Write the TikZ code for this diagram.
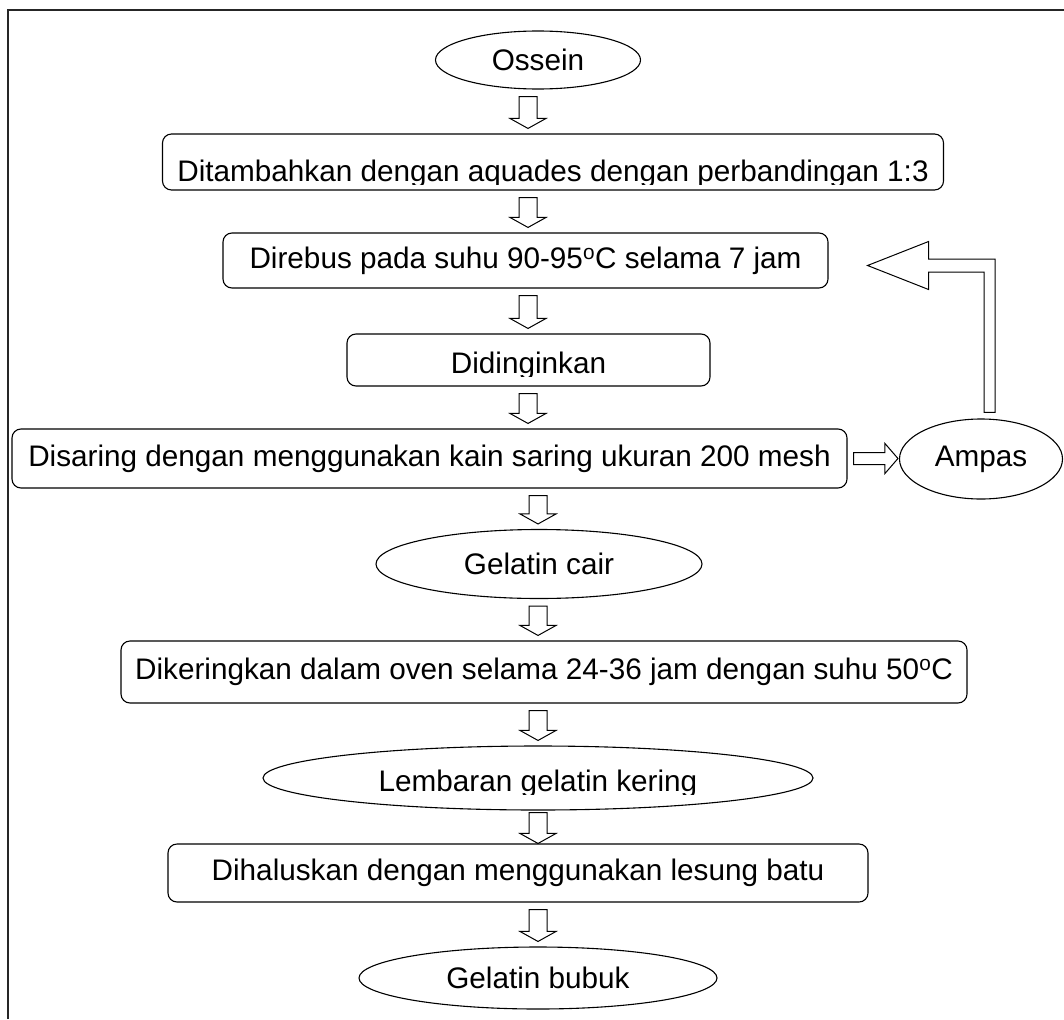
\documentclass[tikz,border=0pt]{standalone}
\usepackage{fontspec}
\setmainfont{Liberation Sans}
\usetikzlibrary{shapes.geometric,calc}

\tikzset{
  teks/.style={font=\fontsize{29.7}{34}\selectfont},
  proses/.style={teks, draw, rounded corners=9pt, line width=1.1pt, inner sep=0pt},
  hasil/.style={teks, draw, ellipse, line width=1.1pt, inner sep=0pt},
  hollow/.style={draw, line width=1pt, line join=miter}
}

% hollow arrow pointing down, in column #2, from node #3 to node #4, #1 = gap
\newcommand{\panahbawah}[4][7]{%
  \draw[hollow] let \p1=($(#2|-#3.south)+(0,#1)$), \p2=($(#2|-#4.north)+(0,2-#1)$) in
    (\x1-9,\y1) -- (\x1+9,\y1) -- (\x1+9,\y2+10) -- (\x1+18,\y2+10)
    -- (\x1,\y2) -- (\x1-18,\y2+10) -- (\x1-9,\y2+10) -- cycle;}

% hollow arrow pointing right, from node #1 to node #2
\newcommand{\panahkanan}[2]{%
  \draw[hollow] let \p1=($(#1.east)+(6,0)$), \p2=($(#2.west)+(-1,0)$) in
    (\x1,\y1+6) -- (\x2-13,\y1+6) -- (\x2-13,\y1+15) -- (\x2,\y1)
    -- (\x2-13,\y1-15) -- (\x2-13,\y1-6) -- (\x1,\y1-6) -- cycle;}

\begin{document}
\begin{tikzpicture}[x=1pt,y=-1pt]
  \useasboundingbox (0,0) rectangle (1064,1019);
  % frame
  \draw[line width=1.6pt, black!85] (8,1019) -- (8,10) -- (1064,10);

  \node[hasil, minimum width=205, minimum height=58] (ossein) at (538,60) {Ossein};
  \node[proses, minimum width=781, minimum height=56] (tambah) at (553,162) {};
  \begin{scope}
    \clip ($(tambah.north west)+(2,2)$) rectangle ($(tambah.east)+(0,22)$);
    \node[teks, anchor=base] (tambahteks) at ($(tambah.south)+(0,-9)$)
      {Ditambahkan dengan aquades dengan perbandingan 1:3};
  \end{scope}
  \node[proses, minimum width=605, minimum height=55] (rebus) at (525.5,260.5)
    {Direbus pada suhu 90-95\textsuperscript{o}C selama 7 jam};
  \node[proses, minimum width=363, minimum height=52] (dingin) at (528.5,360) {};
  \begin{scope}
    \clip ($(dingin.north west)+(2,2)$) rectangle ($(dingin.east)+(0,16)$);
    \node[teks, anchor=base] (dinginteks) at ($(dingin.south)+(0,-13)$) {Didinginkan};
  \end{scope}
  \node[proses, minimum width=835, minimum height=59] (saring) at (429.5,458.5)
    {Disaring dengan menggunakan kain saring ukuran 200 mesh};
  \node[hasil, minimum width=163, minimum height=80] (ampas) at (981,459) {Ampas};
  \node[hasil, minimum width=326, minimum height=69] (cair) at (539,564) {Gelatin cair};
  \node[proses, minimum width=846, minimum height=62] (kering) at (544,672)
    {Dikeringkan dalam oven selama 24-36 jam dengan suhu 50\textsuperscript{o}C};
  \node[hasil, minimum width=550, minimum height=64] (lembar) at (538,778) {};
  \begin{scope}
    \clip ($(lembar.north west)+(0,2)$) rectangle ($(lembar.east)+(0,16)$);
    \node[teks, anchor=base] (lembarteks) at ($(lembar.south)+(0,-19)$)
      {Lembaran gelatin kering};
  \end{scope}
  \node[proses, minimum width=700, minimum height=58] (halus) at (518,873)
    {Dihaluskan dengan menggunakan lesung batu};
  \node[hasil, minimum width=358, minimum height=62] (bubuk) at (538,978) {Gelatin bubuk};

  \coordinate (kolA) at (528,0);
  \coordinate (kolB) at (538,0);
  \panahbawah{kolA}{ossein}{tambah}
  \panahbawah{kolA}{tambah}{rebus}
  \panahbawah{kolA}{rebus}{dingin}
  \panahbawah{kolA}{dingin}{saring}
  \panahbawah{kolB}{saring}{cair}
  \panahbawah{kolB}{cair}{kering}
  \panahbawah{kolB}{kering}{lembar}
  \panahbawah[2]{kolB}{lembar}{halus}
  \panahbawah{kolB}{halus}{bubuk}
  \panahkanan{saring}{ampas}

  % ampas goes back to the boiling step
  \coordinate (balik) at ($(ampas.north)+(8.5,-6)$);
  \coordinate (ujung) at ($(rebus.east)+(39,5)$);
  \draw[hollow] let \p1=(balik), \p2=(ujung) in
    (\x1-5.5,\y1) -- (\x1+5.5,\y1) -- (\x1+5.5,\y2+6.5) -- (\x2+61,\y2+6.5)
    -- (\x2+61,\y2+24) -- (\x2,\y2) -- (\x2+61,\y2-24) -- (\x2+61,\y2-6.5)
    -- (\x1-5.5,\y2-6.5) -- cycle;
\end{tikzpicture}
\end{document}
